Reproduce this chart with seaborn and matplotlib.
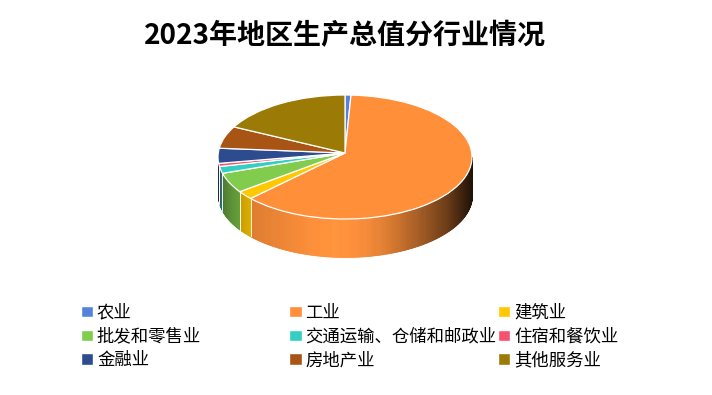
import numpy as np
import matplotlib
matplotlib.use("Agg")
import matplotlib.pyplot as plt
from matplotlib.patches import PathPatch, Rectangle
from matplotlib.path import Path
import seaborn as sns

sectors = ["农业", "工业", "建筑业", "批发和零售业", "交通运输、仓储和邮政业",
           "住宿和餐饮业", "金融业", "房地产业", "其他服务业"]
shares = [0.75, 62.5, 2.2, 5.2, 1.8, 0.8, 3.9, 5.8, 16.9]
colors = ["#5583DC", "#FF8F38", "#FFC800", "#82CC4D", "#33CFC0",
          "#F9506E", "#2C4C8F", "#A85414", "#9B7A05"]
title = "2023年地区生产总值分行业情况"

sns.set_theme(style="white")
plt.rcParams["font.family"] = ["Noto Sans CJK SC", "DejaVu Sans"]

W, H = 712, 395
cx, cy, rx, ry = 345, 157, 127, 62
depth = 38 / ry
apex = 4 / ry

fig = plt.figure(figsize=(W / 100, H / 100), dpi=100)
ax = fig.add_axes([0, 0, 1, 1])

palette = sns.color_palette(colors)
wedges, _ = ax.pie(shares, colors=palette, startangle=90, counterclock=False, radius=1,
                   wedgeprops={"edgecolor": "white", "linewidth": 0.9})
ax.set_aspect("auto")
ax.set_xlim(-cx / rx, (W - cx) / rx)
ax.set_ylim((cy - H) / ry, cy / ry)

# shading of the side wall from left to right
shade_x = [-1.0, -0.9, -0.75, -0.35, -0.1, 0.15, 0.35, 0.6, 0.8, 0.92, 1.0]
shade_v = [0.55, 0.72, 0.87, 0.97, 1.03, 0.97, 0.85, 0.62, 0.42, 0.24, 0.12]

total = sum(shares)
ends = np.cumsum(shares) / total * 360
starts = ends - np.array(shares) / total * 360

# side wall, only the front half of the rim shows
for a0, a1, col in zip(starts, ends, palette):
    lo, hi = max(a0, 90), min(a1, 270)
    if lo >= hi:
        continue
    angles = np.linspace(lo, hi, max(2, int((hi - lo) / 0.5) + 1))
    for t0, t1 in zip(angles[:-1], angles[1:]):
        xs = np.sin(np.radians([t0, t1]))
        ys = np.cos(np.radians([t0, t1]))
        v = np.interp(xs.mean(), shade_x, shade_v)
        c = tuple(np.clip(np.array(col) * v, 0, 1))
        ax.fill_between(xs, ys - depth, ys, color=c, linewidth=0.5, zorder=1)
    for t in (lo, hi):
        if 90 < t < 270:
            x, y = np.sin(np.radians(t)), np.cos(np.radians(t))
            ax.plot([x, x], [y, y - depth], color="white", lw=0.7, alpha=0.7, zorder=2)

# top face, the pie centre sits a bit above the ellipse centre
for w, col in zip(wedges, palette):
    p = w.get_patch_transform().transform_path(w.get_path())
    verts = p.vertices.copy()
    verts[np.hypot(verts[:, 0], verts[:, 1]) < 1e-6] = [0, apex]
    ax.add_patch(PathPatch(Path(verts, p.codes), facecolor=col, edgecolor="white",
                           linewidth=0.9, zorder=3))
    w.set_visible(False)

ax.text(345 / W, 1 - 36 / H, title, transform=ax.transAxes, ha="center", va="center",
        fontsize=20.2, fontweight="bold", color="black")

# three legend columns of equal width, like the original
fs = 12.5
for col_i, x_left in enumerate([65, 273.5, 482]):
    idx = range(col_i, 9, 3)
    handles = [Rectangle((0, 0), 1, 1, facecolor=palette[i]) for i in idx]
    labels = [sectors[i] for i in idx]
    fig.legend(handles, labels, loc="upper left", bbox_to_anchor=(x_left / W, 1 - 288 / H),
               ncol=1, frameon=False, fontsize=fs, handlelength=0.72, handleheight=0.62,
               handletextpad=0.22, labelspacing=0.33, borderpad=0.4, labelcolor="black")

fig.savefig("out.png", dpi=100, facecolor="white")
